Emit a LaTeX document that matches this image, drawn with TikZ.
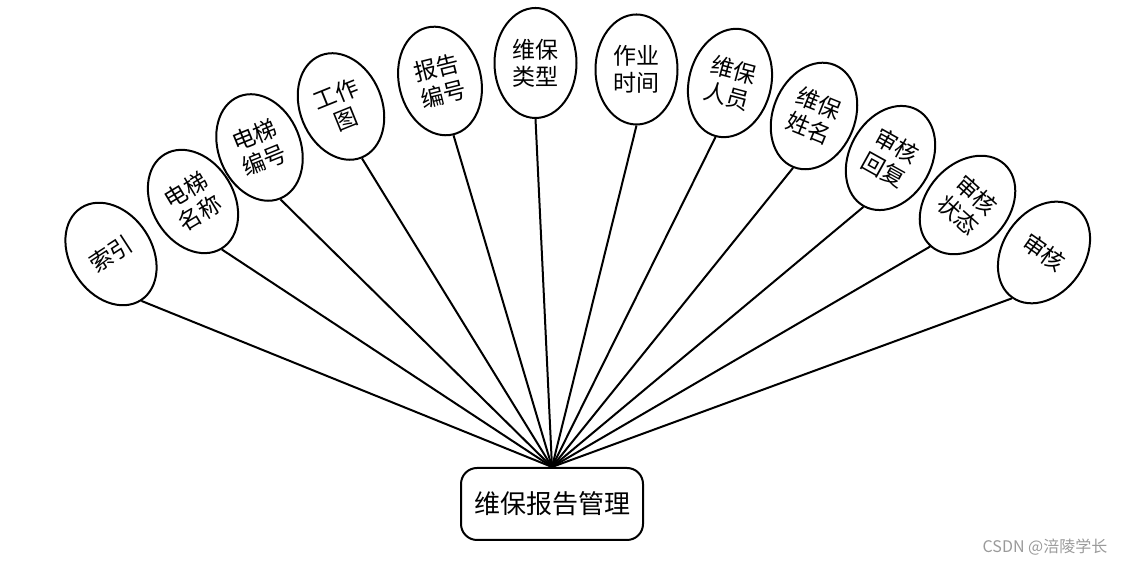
\documentclass[tikz,border=0pt]{standalone}
\usepackage{fontspec}
\setmainfont{Noto Sans CJK SC}
\usetikzlibrary{shapes.geometric}
\definecolor{markgray}{HTML}{9A9A9A}

\begin{document}
\begin{tikzpicture}[
    x=0.5pt, y=0.5pt,
    attr/.style={draw, ellipse, line width=1pt, inner sep=0pt,
      minimum width=41pt, minimum height=55pt, align=center,
      font=\fontsize{11.5}{13.5}\selectfont},
    entity/.style={draw, rounded corners=8pt, line width=1pt,
      minimum width=91pt, minimum height=36pt,
      font=\fontsize{13}{15}\selectfont},
    link/.style={line width=1pt}
]
  \useasboundingbox (0,0) rectangle (1130,565);

  % Central entity
  \node[entity] (mgmt) at (552,61) {维保报告管理};

  % Attributes in a fan, each joined to the entity
  \foreach \name/\x/\y/\ang/\txt in {
      idx/111/311/33/{索引},
      ename/193/363.5/31/{电梯\\名称},
      enum/259.5/417.5/22/{电梯\\编号},
      pic/341/458.5/22/{工作\\图},
      rnum/440/484/14/{报告\\编号},
      mtype/535.5/502/0/{维保\\类型},
      wtime/636.5/495.5/0/{作业\\时间},
      staff/730/482/-15/{维保\\人员},
      sname/814/449/-22/{维保\\姓名},
      reply/890.5/407/-29/{审核\\回复},
      state/967.5/360/-42/{审核\\状态},
      audit/1044/312.5/-35/{审核}} {
    \node[attr, rotate=\ang] (\name) at (\x,\y) {\txt};
    \draw[link] (\name.south) -- (mgmt.north);
  }

  % Watermark
  \node[text=markgray, font=\fontsize{8}{9}\selectfont] (mark) at (1045,18) {CSDN @涪陵学长};
\end{tikzpicture}
\end{document}
